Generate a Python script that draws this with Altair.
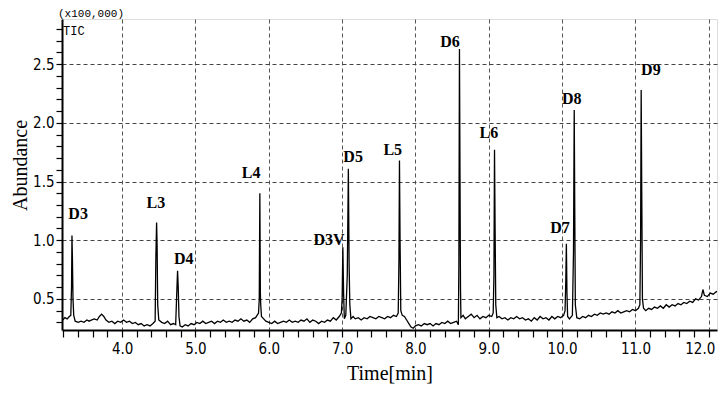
import altair as alt
import pandas as pd

# chromatogram trace (time in min, abundance x100,000)
trace_t = [3.19, 3.22, 3.25, 3.28, 3.30, 3.31, 3.316, 3.322, 3.33, 3.34, 3.36, 3.40, 3.44, 3.48, 3.52, 3.55, 3.58,
           3.62, 3.66, 3.69, 3.72, 3.75, 3.78, 3.82, 3.86, 3.90, 3.94, 3.98, 4.02, 4.06, 4.10, 4.14, 4.18, 4.22,
           4.26, 4.30, 4.34, 4.38, 4.42, 4.45, 4.46, 4.47, 4.477, 4.485, 4.50, 4.54, 4.58, 4.62, 4.66, 4.70, 4.73,
           4.745, 4.756, 4.765, 4.775, 4.79, 4.82, 4.86, 4.90, 4.94, 4.98, 5.02, 5.06, 5.10, 5.14, 5.18, 5.22,
           5.26, 5.30, 5.34, 5.38, 5.42, 5.46, 5.50, 5.54, 5.58, 5.62, 5.66, 5.70, 5.74, 5.78, 5.82, 5.86, 5.87,
           5.878, 5.885, 5.89, 5.90, 5.93, 5.96, 6.00, 6.04, 6.08, 6.12, 6.16, 6.20, 6.24, 6.28, 6.32, 6.36, 6.40,
           6.44, 6.48, 6.52, 6.56, 6.60, 6.64, 6.68, 6.72, 6.76, 6.80, 6.84, 6.88, 6.92, 6.96, 6.99, 7.00, 7.01,
           7.02, 7.03, 7.05, 7.07, 7.085, 7.095, 7.105, 7.12, 7.15, 7.18, 7.22, 7.26, 7.30, 7.34, 7.38, 7.42,
           7.46, 7.50, 7.54, 7.58, 7.62, 7.66, 7.70, 7.74, 7.765, 7.775, 7.782, 7.79, 7.80, 7.82, 7.85, 7.88,
           7.91, 7.94, 7.97, 8.00, 8.04, 8.08, 8.12, 8.16, 8.20, 8.24, 8.28, 8.32, 8.36, 8.40, 8.44, 8.48, 8.52,
           8.56, 8.585, 8.592, 8.60, 8.607, 8.614, 8.62, 8.65, 8.68, 8.72, 8.76, 8.80, 8.84, 8.88, 8.92, 8.96,
           9.00, 9.04, 9.06, 9.07, 9.078, 9.086, 9.095, 9.11, 9.14, 9.18, 9.22, 9.26, 9.30, 9.34, 9.38, 9.42,
           9.46, 9.50, 9.54, 9.58, 9.62, 9.66, 9.70, 9.74, 9.78, 9.82, 9.86, 9.90, 9.94, 9.98, 10.02, 10.04,
           10.05, 10.058, 10.066, 10.075, 10.10, 10.14, 10.155, 10.165, 10.173, 10.18, 10.20, 10.24, 10.28,
           10.32, 10.36, 10.40, 10.44, 10.48, 10.52, 10.56, 10.60, 10.64, 10.68, 10.72, 10.76, 10.80, 10.84,
           10.88, 10.92, 10.96, 11.00, 11.04, 11.06, 11.07, 11.078, 11.086, 11.095, 11.11, 11.14, 11.18, 11.22,
           11.26, 11.30, 11.34, 11.38, 11.42, 11.46, 11.50, 11.54, 11.58, 11.62, 11.66, 11.70, 11.74, 11.78,
           11.82, 11.86, 11.90, 11.92, 11.94, 11.98, 12.02, 12.06, 12.10, 12.13, 12.16]
trace_v = [0.32, 0.34, 0.33, 0.35, 0.36, 0.60, 1.04, 0.85, 0.50, 0.36, 0.31, 0.30, 0.31, 0.30, 0.32, 0.31, 0.32,
           0.33, 0.32, 0.35, 0.37, 0.35, 0.32, 0.30, 0.31, 0.29, 0.31, 0.30, 0.32, 0.30, 0.31, 0.29, 0.30, 0.28,
           0.29, 0.27, 0.28, 0.27, 0.29, 0.31, 0.85, 1.15, 0.95, 0.45, 0.32, 0.30, 0.29, 0.31, 0.28, 0.29, 0.28,
           0.55, 0.74, 0.60, 0.35, 0.27, 0.26, 0.28, 0.27, 0.29, 0.28, 0.30, 0.29, 0.31, 0.29, 0.30, 0.31,
           0.29, 0.31, 0.30, 0.32, 0.30, 0.31, 0.30, 0.32, 0.31, 0.33, 0.31, 0.32, 0.30, 0.33, 0.34, 0.38, 0.50,
           1.40, 0.55, 0.45, 0.35, 0.33, 0.31, 0.30, 0.29, 0.31, 0.29, 0.30, 0.31, 0.30, 0.32, 0.30, 0.31, 0.30,
           0.32, 0.31, 0.33, 0.30, 0.32, 0.31, 0.29, 0.31, 0.30, 0.32, 0.31, 0.34, 0.32, 0.35, 0.38, 0.50, 0.94,
           0.55, 0.33, 0.36, 0.70, 1.61, 0.80, 0.45, 0.33, 0.35, 0.33, 0.34, 0.32, 0.34, 0.33, 0.35, 0.34,
           0.33, 0.35, 0.34, 0.33, 0.35, 0.34, 0.36, 0.35, 0.38, 0.85, 1.68, 1.00, 0.40, 0.36, 0.35, 0.32,
           0.29, 0.26, 0.25, 0.27, 0.28, 0.27, 0.29, 0.28, 0.29, 0.27, 0.29, 0.28, 0.30, 0.29, 0.31, 0.29, 0.30,
           0.31, 0.28, 0.80, 2.63, 1.60, 0.60, 0.34, 0.36, 0.33, 0.35, 0.37, 0.34, 0.36, 0.33, 0.35, 0.34,
           0.36, 0.35, 0.38, 0.70, 1.77, 1.10, 0.45, 0.34, 0.35, 0.33, 0.34, 0.32, 0.34, 0.33, 0.35, 0.33,
           0.34, 0.32, 0.33, 0.31, 0.34, 0.32, 0.35, 0.33, 0.34, 0.32, 0.35, 0.33, 0.35, 0.34, 0.36, 0.40,
           0.65, 0.97, 0.55, 0.35, 0.33, 0.36, 0.90, 2.11, 1.20, 0.45, 0.34, 0.33, 0.35,
           0.34, 0.36, 0.35, 0.37, 0.36, 0.38, 0.37, 0.38, 0.37, 0.39, 0.38, 0.40, 0.38, 0.39,
           0.40, 0.39, 0.41, 0.40, 0.42, 0.45, 1.00, 2.28, 1.40, 0.50, 0.42, 0.40, 0.42, 0.41,
           0.43, 0.42, 0.44, 0.42, 0.45, 0.43, 0.45, 0.44, 0.46, 0.45, 0.47, 0.46, 0.48, 0.47,
           0.50, 0.49, 0.52, 0.58, 0.53, 0.52, 0.55, 0.54, 0.56, 0.57, 0.58]

# peak labels and their positions
label_names = ["D3", "L3", "D4", "L4", "D3V", "D5", "L5", "D6", "L6", "D7", "D8", "D9"]
label_t = [3.40, 4.46, 4.84, 5.76, 6.82, 7.15, 7.69, 8.47, 9.00, 9.97, 10.13, 11.21]
label_v = [1.22, 1.32, 0.84, 1.57, 1.00, 1.71, 1.77, 2.69, 1.91, 1.10, 2.20, 2.45]

x_ticks = [round(3.2 + 0.2 * i, 1) for i in range(45)]
y_ticks = [round(0.3 + 0.1 * i, 1) for i in range(26)]

trace = pd.DataFrame({"t": trace_t, "v": trace_v})
labels = pd.DataFrame({"name": label_names, "t": label_t, "v": label_v})

x_major = "abs(datum.value - round(datum.value)) < 0.01"
y_major = "abs(datum.value * 2 - round(datum.value * 2)) < 0.01"

x_scale = alt.Scale(domain=[3.18, 12.112], nice=False, zero=False)
y_scale = alt.Scale(domain=[0.235, 2.885], nice=False, zero=False)

tick_font = "Liberation Sans Narrow, DejaVu Sans Condensed, Liberation Mono"

x_axis = alt.Axis(
    values=x_ticks, tickCount=200,
    labelExpr=f"{x_major} ? format(datum.value, '.1f') : ''",
    labelOverlap=False, labelFlush=False,
    labelFont=tick_font, labelFontSize=15, labelColor="black", labelPadding=4,
    labelOffset={"condition": {"test": "datum.value > 11.9", "value": -9}, "value": 0},
    grid=True, gridColor="#555555", gridDash=[4, 3], gridWidth=1,
    gridOpacity={"condition": {"test": x_major, "value": 1}, "value": 0},
    tickSize=7, tickColor="black", tickWidth=1.2,
    domainColor="black", domainWidth=2,
    title="Time[min]", titleFont="Liberation Serif", titleFontSize=20,
    titleFontWeight="normal", titleColor="black", titlePadding=7,
)
y_axis = alt.Axis(
    values=y_ticks, tickCount=200,
    labelExpr=f"{y_major} ? format(datum.value, '.1f') : ''",
    labelOverlap=False, labelFlush=False,
    labelFont=tick_font, labelFontSize=15, labelColor="black", labelPadding=2,
    grid=True, gridColor="#444444", gridDash=[4, 3], gridWidth=1,
    gridOpacity={"condition": {"test": y_major, "value": 1}, "value": 0},
    tickSize=6, tickColor="black", tickWidth=1.2,
    domainColor="black", domainWidth=2,
    title="Abundance", titleFont="Liberation Serif", titleFontSize=20,
    titleFontWeight="normal", titleColor="black",
    titleAngle=270, titleAlign="center", titleBaseline="middle",
    titleX=-42, titleY=146,
)

line = alt.Chart(trace).mark_line(color="black", strokeWidth=1.3, clip=True).encode(
    x=alt.X("t:Q", scale=x_scale, axis=x_axis),
    y=alt.Y("v:Q", scale=y_scale, axis=y_axis),
)

text = alt.Chart(labels).mark_text(
    font="Liberation Serif", fontSize=16, fontWeight="bold", color="black",
    align="center", baseline="middle",
).encode(
    x=alt.X("t:Q", scale=x_scale),
    y=alt.Y("v:Q", scale=y_scale),
    text="name:N",
)

notes = pd.DataFrame({"s": ["TIC"]})
tic = alt.Chart(notes).mark_text(
    font="Liberation Mono", fontSize=12, color="black", align="left", baseline="middle",
).encode(text="s:N", x=alt.value(1), y=alt.value(12))

unit = alt.Chart(pd.DataFrame({"s": ["(x100,000)"]})).mark_text(
    font="Liberation Mono", fontSize=11, color="black", align="left", baseline="bottom",
).encode(text="s:N", x=alt.value(-4), y=alt.value(0))

chart = alt.layer(line, text, tic, unit).properties(
    width=655, height=311,
    padding={"left": 54, "top": 11, "right": 1, "bottom": 54},
    autosize=alt.AutoSizeParams(type="none"),
).configure_view(stroke="#222222", strokeWidth=1.8).configure(background="white")

chart.save("out.html", embed_options={"renderer": "svg", "actions": False})
